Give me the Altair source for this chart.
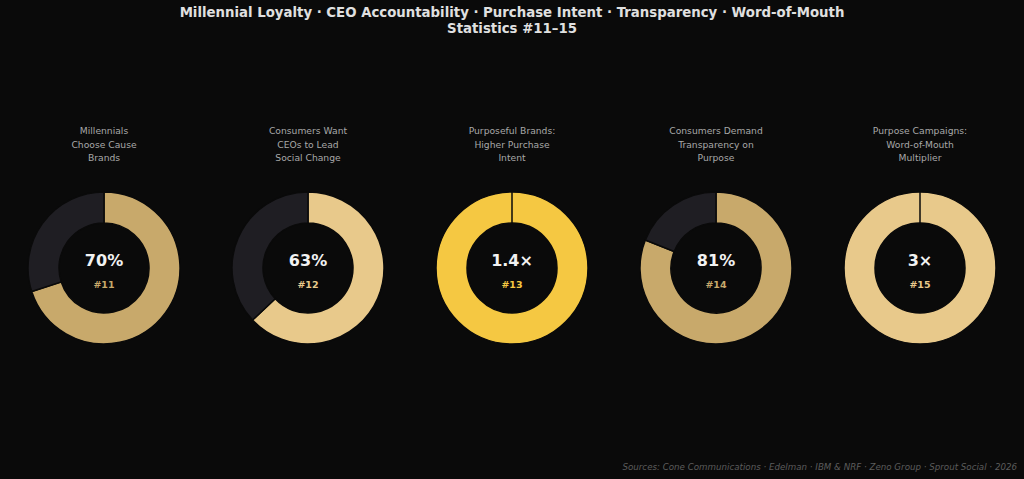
import altair as alt
import pandas as pd

# ---- data ----
panels = ["P1", "P2", "P3", "P4", "P5"]
labels = [
    "Millennials\nChoose Cause\nBrands",
    "Consumers Want\nCEOs to Lead\nSocial Change",
    "Purposeful Brands:\nHigher Purchase\nIntent",
    "Consumers Demand\nTransparency on\nPurpose",
    "Purpose Campaigns:\nWord-of-Mouth\nMultiplier",
]
display_values = ["70%", "63%", "1.4×", "81%", "3×"]
fill_pct = [70, 63, 100, 81, 100]
stat_ids = ["#11", "#12", "#13", "#14", "#15"]
fill_colors = ["#c8a96b", "#e8c98b", "#f5c842", "#c8a96b", "#e8c98b"]
rest_color = "#1f1e23"
title_lines = ["Millennial Loyalty · CEO Accountability · Purchase Intent · Transparency · Word-of-Mouth",
               "Statistics #11–15"]
source_text = "Sources: Cone Communications · Edelman · IBM & NRF · Zeno Group · Sprout Social · 2026"

BG = "#0a0a0a"
FONT = "DejaVu Sans"

# ---- tables ----
seg_rows = []
for p, pct in zip(panels, fill_pct):
    seg_rows.append({"panel": p, "key": p + "-fill", "start": 0, "end": pct})
    seg_rows.append({"panel": p, "key": "rest", "start": pct, "end": 100})
seg_df = pd.DataFrame(seg_rows)

txt_df = pd.DataFrame({
    "panel": panels, "label": labels, "value": display_values,
    "sid": stat_ids, "key": [p + "-fill" for p in panels],
})

color_domain = [p + "-fill" for p in panels] + ["rest"]
color_range = fill_colors + [rest_color]
color_scale = alt.Scale(domain=color_domain, range=color_range)
x_enc = alt.X("panel:N", scale=alt.Scale(domain=panels, paddingInner=0, paddingOuter=0), axis=None)

W, H = 1020, 479

arcs = alt.Chart(seg_df).mark_arc(
    innerRadius=45, outerRadius=76, stroke=BG, strokeWidth=1.5
).encode(
    x=x_enc,
    y=alt.value(268),
    theta=alt.Theta("start:Q", scale=alt.Scale(domain=[0, 100])),
    theta2="end:Q",
    color=alt.Color("key:N", scale=color_scale, legend=None),
)

center_val = alt.Chart(txt_df).mark_text(
    font=FONT, fontSize=16, fontWeight="bold", color="#f2f2f2", baseline="middle"
).encode(x=x_enc, y=alt.value(261), text="value:N")

center_id = alt.Chart(txt_df).mark_text(
    font=FONT, fontSize=9.5, fontWeight="bold", baseline="middle"
).encode(x=x_enc, y=alt.value(285), text="sid:N",
         color=alt.Color("key:N", scale=color_scale, legend=None))

panel_lbl = alt.Chart(txt_df).mark_text(
    font=FONT, fontSize=9.2, color="#a8a8a8", baseline="middle", lineBreak="\n", lineHeight=13.5
).encode(x=x_enc, y=alt.value(131), text="label:N")

title_df = pd.DataFrame({"t": ["\n".join(title_lines)]})
title = alt.Chart(title_df).mark_text(
    font=FONT, fontSize=13.3, fontWeight="bold", color="#e0e0e0",
    baseline="middle", lineBreak="\n", lineHeight=16
).encode(x=alt.value(W / 2), y=alt.value(13), text="t:N")

src_df = pd.DataFrame({"t": [source_text]})
source = alt.Chart(src_df).mark_text(
    font=FONT, fontSize=8.7, fontStyle="italic", color="#5c5c5c", align="right", baseline="middle"
).encode(x=alt.value(1015), y=alt.value(467), text="t:N")

chart = alt.layer(arcs, center_val, center_id, panel_lbl, title, source).properties(
    width=W, height=H,
    autosize=alt.AutoSizeParams(type="none"),
    padding={"left": 2, "right": 2, "top": 0, "bottom": 0},
    background=BG,
).configure_view(stroke=None)

chart.save("out.html", embed_options={"renderer": "svg", "actions": False})
